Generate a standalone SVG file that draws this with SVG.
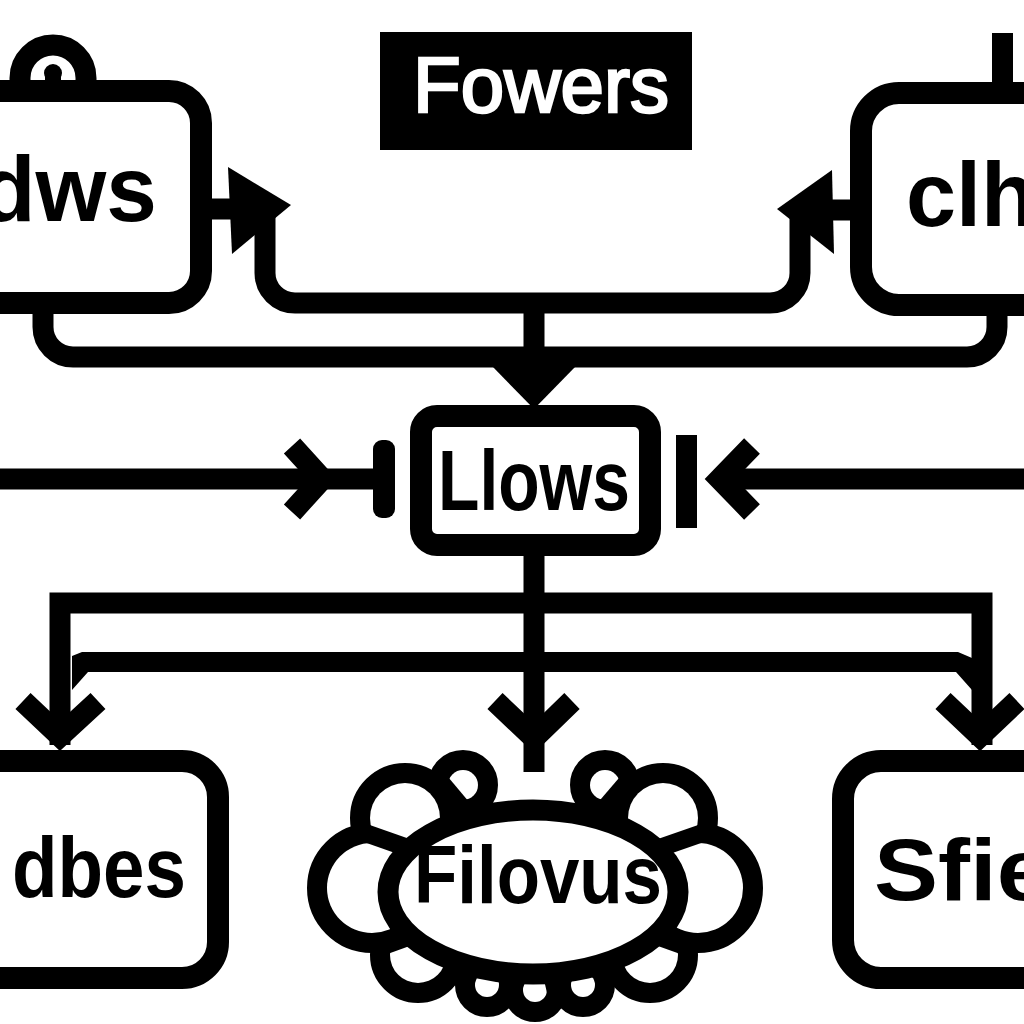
<svg xmlns="http://www.w3.org/2000/svg" width="1024" height="1024" viewBox="0 0 1024 1024">
<style>
.ln{fill:none;stroke:#000;stroke-width:21}
.box{fill:#fff;stroke:#000;stroke-width:22}
.hd{fill:#000}
.chev{fill:none;stroke:#000;stroke-width:22;stroke-linejoin:miter;stroke-miterlimit:4}
.t{font-family:"Liberation Sans",Arial,sans-serif;font-weight:bold;fill:#000}
.bump{fill:none;stroke:#000;stroke-width:40}
.bfill{fill:#fff}
</style>
<rect width="1024" height="1024" fill="#fff"/>

<g id="connectors">
  <path class="ln" d="M265 215 V273 A30 30 0 0 0 295 303 H770 A30 30 0 0 0 800 273 V215"/>
  <path class="ln" d="M43 300 V327 A30 30 0 0 0 73 357 H967 A30 30 0 0 0 997 327 V300"/>
  <path class="ln" d="M176 209 H240" stroke-linecap="round"/>
  <polygon class="hd" points="228,167 291,205 232,254"/>
  <path class="ln" d="M832 210 H892"/>
  <polygon class="hd" points="832,170 777,209 834,254"/>
  <path class="ln" d="M534 303 V372" stroke-width="23"/>
  <polygon class="hd" points="492,366 576,366 534,409"/>
  <path class="ln" d="M0 479 H384"/>
  <polyline class="chev" points="292,446 322,479 292,512"/>
  <rect x="373" y="440" width="22" height="78" rx="9" fill="#000"/>
  <path class="ln" d="M718 479 H1024"/>
  <polyline class="chev" points="752,446 720,479 752,512"/>
  <rect x="676" y="435" width="21" height="93" fill="#000"/>
  <path class="ln" d="M534 545 V772" stroke-width="24"/>
  <path class="ln" d="M60 745 V603 H982 V745" stroke-linejoin="miter"/>
  <polygon class="hd" points="72,656 82,652 958,652 972,658 972,690 956,672 88,672 72,690"/>
  <polyline class="chev" points="23,701 60,736 98,701"/>
  <polyline class="chev" points="495,701 534,738 572,701"/>
  <polyline class="chev" points="943,701 980,736 1017,701"/>
</g>

<g id="node-fowers">
  <rect x="380" y="32" width="312" height="118" fill="#000"/>
  <text x="413" y="112" font-family="'Liberation Sans',Arial,sans-serif" font-size="77" fill="#fff" stroke="#fff" stroke-width="2.5" textLength="256" lengthAdjust="spacingAndGlyphs">Fowers</text>
</g>

<g id="node-dws">
  <path class="ln" d="M20 91 V78 A33 33 0 0 1 86 78 V91"/>
  <circle cx="53" cy="73" r="9" fill="#000"/>
  <rect x="45" y="73" width="16" height="20" fill="#000"/>
  <rect class="box" x="-40" y="91" width="241" height="212" rx="32"/>
  <text class="t" x="-20" y="221" font-size="92" textLength="177" lengthAdjust="spacingAndGlyphs">dws</text>
</g>

<g id="node-clh">
  <rect x="992" y="33" width="21" height="62" fill="#000"/>
  <rect class="box" x="861" y="93" width="220" height="212" rx="38"/>
  <text class="t" x="906" y="226" font-size="90">clh</text>
</g>

<g id="node-llows">
  <rect class="box" x="421" y="416" width="229" height="129" rx="16"/>
  <text class="t" x="438" y="510" font-size="86" textLength="192" lengthAdjust="spacingAndGlyphs">Llows</text>
</g>

<g id="node-dbes">
  <rect class="box" x="-40" y="761" width="258" height="217" rx="36"/>
  <text class="t" x="12" y="897" font-size="86" textLength="174" lengthAdjust="spacingAndGlyphs">dbes</text>
</g>

<g id="node-sfie">
  <rect class="box" x="843" y="761" width="220" height="217" rx="38"/>
  <text class="t" x="874" y="900" font-size="88" textLength="176" lengthAdjust="spacingAndGlyphs">Sfie</text>
</g>

<g id="node-filovus">
  <g class="bump">
    <circle cx="463" cy="785" r="15"/>
    <circle cx="605" cy="785" r="15"/>
    <circle cx="405" cy="818" r="35"/>
    <circle cx="663" cy="818" r="35"/>
    <circle cx="372" cy="888" r="45"/>
    <circle cx="698" cy="888" r="45"/>
    <circle cx="418" cy="955" r="28"/>
    <circle cx="650" cy="955" r="28"/>
    <circle cx="487" cy="985" r="12"/>
    <circle cx="535" cy="990" r="12"/>
    <circle cx="583" cy="985" r="12"/>
  </g>
  <g class="bfill">
    <circle cx="463" cy="785" r="15"/>
    <circle cx="605" cy="785" r="15"/>
    <circle cx="405" cy="818" r="35"/>
    <circle cx="663" cy="818" r="35"/>
    <circle cx="372" cy="888" r="45"/>
    <circle cx="698" cy="888" r="45"/>
    <circle cx="418" cy="955" r="28"/>
    <circle cx="650" cy="955" r="28"/>
    <circle cx="487" cy="985" r="12"/>
    <circle cx="535" cy="990" r="12"/>
    <circle cx="583" cy="985" r="12"/>
  </g>
  <g stroke="#000" stroke-width="18">
    <line x1="433" y1="773" x2="533" y2="892"/>
    <line x1="354" y1="829" x2="533" y2="892"/>
    <line x1="372" y1="950" x2="533" y2="892"/>
    <line x1="457" y1="983" x2="533" y2="892"/>
    <line x1="510" y1="1005" x2="533" y2="892"/>
    <line x1="559" y1="1005" x2="533" y2="892"/>
    <line x1="611" y1="983" x2="533" y2="892"/>
    <line x1="696" y1="950" x2="533" y2="892"/>
    <line x1="714" y1="829" x2="533" y2="892"/>
    <line x1="635" y1="773" x2="533" y2="892"/>
  </g>
  <ellipse cx="533" cy="892" rx="145" ry="82" fill="#fff" stroke="#000" stroke-width="21"/>
  <text class="t" x="414" y="903" font-size="81" textLength="248" lengthAdjust="spacingAndGlyphs">Filovus</text>
</g>
</svg>
